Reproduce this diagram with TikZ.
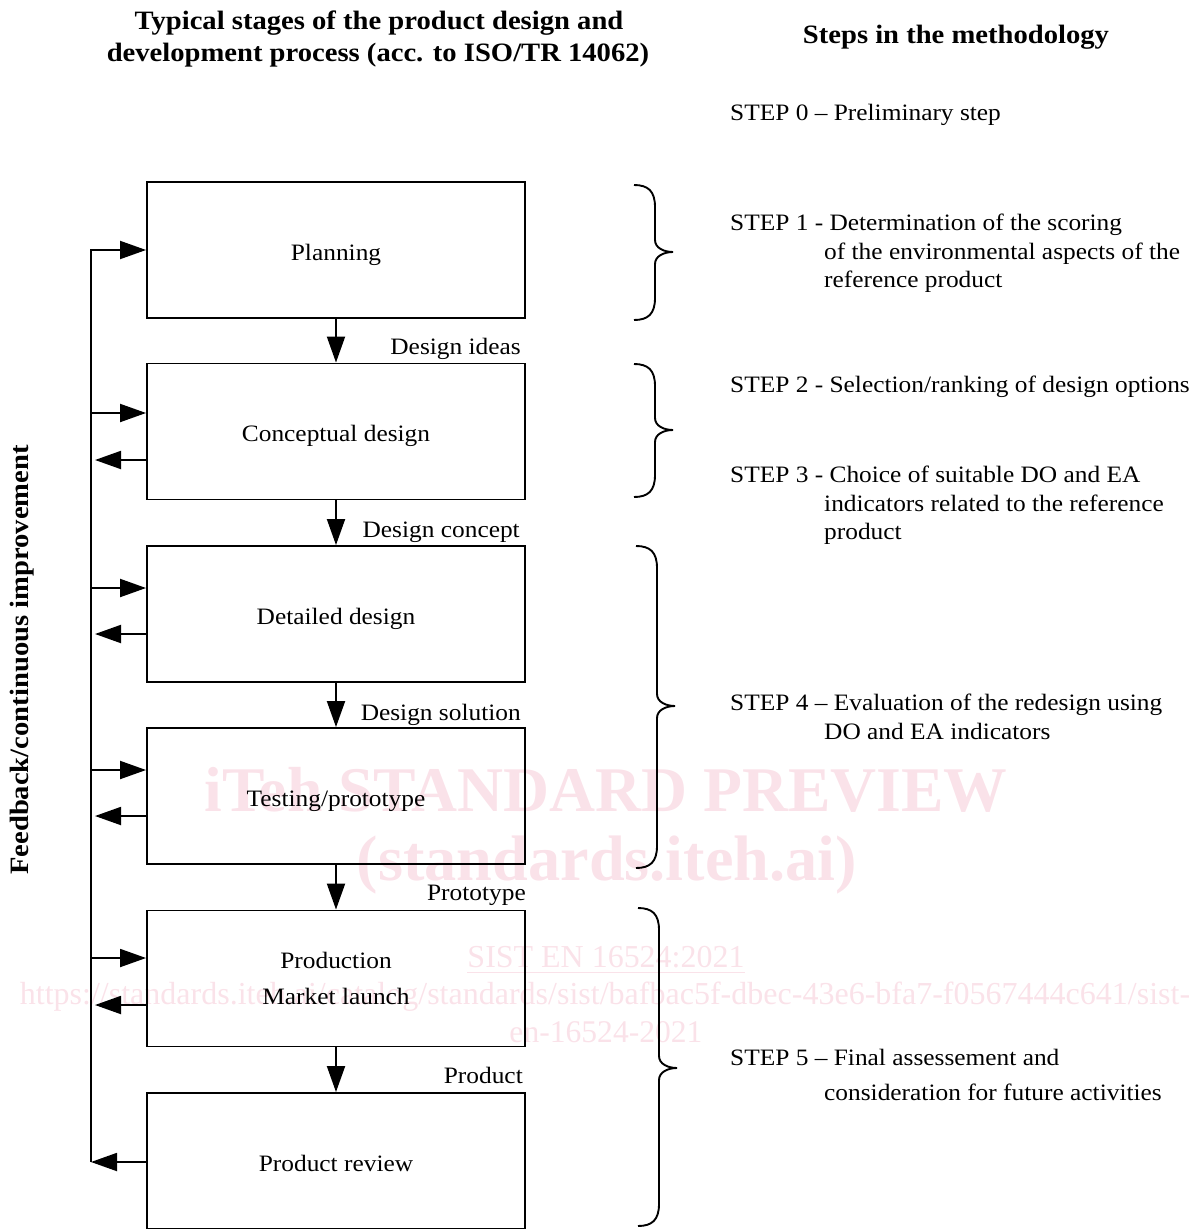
\documentclass[tikz,border=0pt]{standalone}
\usepackage{fontspec}
\setmainfont{Liberation Serif}[FakeStretch=1.08]
\newfontfamily\wmfont{Liberation Serif}
\usetikzlibrary{arrows.meta}
\definecolor{wm}{RGB}{250,226,233}
\newcommand{\bodyfont}{\fontsize{23.5}{28}\selectfont}
\newcommand{\mybrace}[4]{%
  \draw[ln] (#1,#2) .. controls (#1+14,#2) and (#1+21,#2+6) .. (#1+21,#2+22)
    -- (#1+21,#4-12) .. controls (#1+21,#4-4) and (#1+30,#4) .. (#1+39,#4)
    .. controls (#1+30,#4) and (#1+21,#4+4) .. (#1+21,#4+12)
    -- (#1+21,#3-22) .. controls (#1+21,#3-6) and (#1+14,#3) .. (#1,#3);}
\tikzset{
  ln/.style={line width=1.9pt},
  box/.style={draw, line width=1.9pt, minimum width=378pt, minimum height=136pt, font=\bodyfont, align=center},
  one/.style={text height=21pt, text depth=1pt},
  arr/.style={line width=1.9pt, -{Triangle[length=26pt,width=18pt]}},
  lbl/.style={font=\bodyfont, anchor=base east, inner sep=0pt},
  steptxt/.style={font=\bodyfont, anchor=base west, inner sep=0pt},
  ttl/.style={font=\bfseries\fontsize{26.5}{30}\selectfont, anchor=base, inner sep=0pt},
  wmtxt/.style={text=wm, inner sep=0pt}
}
\begin{document}
\begin{tikzpicture}[x=1pt,y=-1pt]
\useasboundingbox (0,0) rectangle (1195,1229);
% watermark
\node[wmtxt] (w1) at (606,790) {\resizebox{803pt}{!}{\wmfont\bfseries iTeh STANDARD PREVIEW}};
\node[wmtxt] (w2) at (607,865) {\resizebox{500pt}{!}{\wmfont\bfseries (standards.iteh.ai)}};
\node[wmtxt] (w3) at (606,960) {\resizebox{277pt}{!}{\wmfont\underline{SIST EN 16524:2021}}};
\node[wmtxt] (w4) at (605,997) {\resizebox{1170pt}{!}{\wmfont https://standards.iteh.ai/catalog/standards/sist/bafbac5f-dbec-43e6-bfa7-f0567444c641/sist-}};
\node[wmtxt] (w5) at (606,1032) {\resizebox{193pt}{!}{\wmfont en-16524-2021}};
% titles
\node[ttl] (t1) at (379,29) {Typical stages of the product design and};
\node[ttl] (t2) at (378,61.5) {development process (acc. to ISO/TR 14062)};
\node[ttl] (t3) at (956,43.5) {Steps in the methodology};
% boxes
\node[box,one] (plan) at (336,250) {Planning};
\node[box,one] (concept) at (336,431.5) {Conceptual design};
\node[box,one] (detail) at (336,614) {Detailed design};
\node[box,one] (test) at (336,796) {Testing/prototype};
\node[box] (prod) at (336,978.5) {Production\\[8pt]Market launch};
\node[box,one] (review) at (336,1161) {Product review};
% downward arrows
\draw[arr] (plan) -- (concept);
\draw[arr] (concept) -- (detail);
\draw[arr] (detail) -- (test);
\draw[arr] (test) -- (prod);
\draw[arr] (prod) -- (review);
\node[lbl] (l1) at (521,354) {Design ideas};
\node[lbl] (l2) at (520,537) {Design concept};
\node[lbl] (l3) at (521,720) {Design solution};
\node[lbl] (l4) at (526,900) {Prototype};
\node[lbl] (l5) at (523,1083) {Product};
% feedback loop
\coordinate (fbtop) at (91,250);
\coordinate (fbbot) at (91,1162);
\draw[arr] (fbbot) -- (fbtop) -- (plan.west);
\draw[arr] (review.west |- fbbot) -- (fbbot);
\foreach \n/\yi/\yo in {concept/413/460, detail/588/634, test/770/816, prod/958/1005}{
  \coordinate (\n-in) at (91,\yi);
  \coordinate (\n-out) at (95,\yo);
  \draw[arr] (\n-in) -- (\n-in -| \n.west);
  \draw[arr] (\n-out -| \n.west) -- (\n-out);
}
\node[rotate=90, font=\bfseries\fontsize{26.5}{30}\selectfont] (fbtext) at (22,660) {Feedback/continuous improvement};
% braces
\mybrace{634}{185}{320}{252}
\mybrace{634}{364}{497}{430}
\mybrace{636}{546}{868}{706}
\mybrace{638}{908}{1226}{1068}
% steps
\node[steptxt] (s0) at (730,120) {STEP 0 -- Preliminary step};
\node[steptxt] (s1a) at (730,230) {STEP 1 - Determination of the scoring};
\node[steptxt] (s1b) at (824,259) {of the environmental aspects of the};
\node[steptxt] (s1c) at (824,287) {reference product};
\node[steptxt] (s2) at (730,392) {STEP 2 - Selection/ranking of design options};
\node[steptxt] (s3a) at (730,482) {STEP 3 - Choice of suitable DO and EA};
\node[steptxt] (s3b) at (824,511) {indicators related to the reference};
\node[steptxt] (s3c) at (824,539) {product};
\node[steptxt] (s4a) at (730,710) {STEP 4 -- Evaluation of the redesign using};
\node[steptxt] (s4b) at (824,739) {DO and EA indicators};
\node[steptxt] (s5a) at (730,1065) {STEP 5 -- Final assessement and};
\node[steptxt] (s5b) at (824,1100) {consideration for future activities};
\end{tikzpicture}
\end{document}
